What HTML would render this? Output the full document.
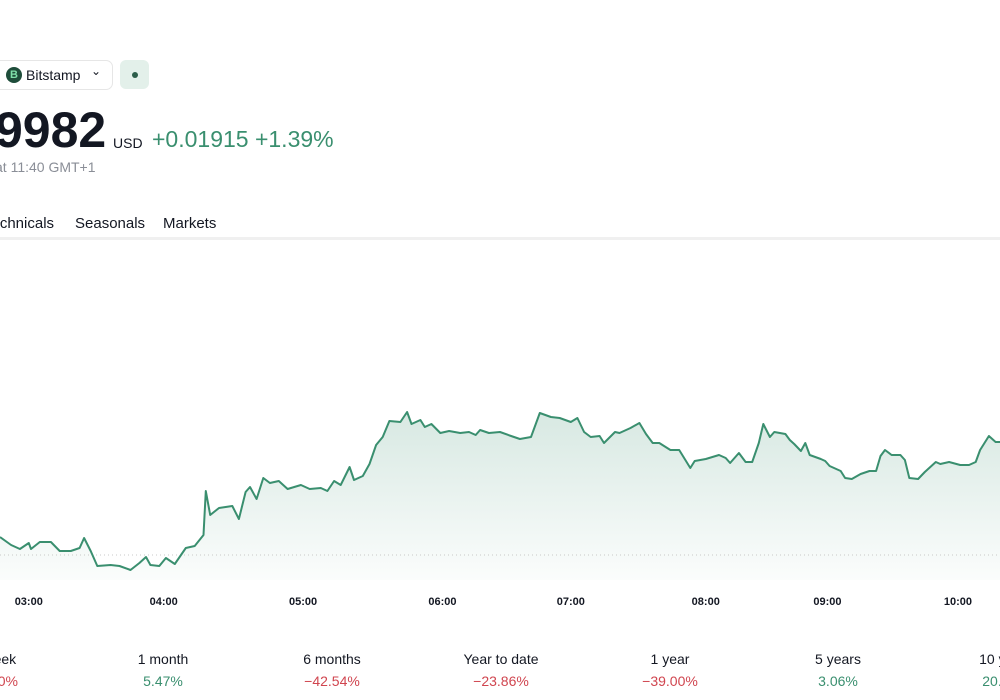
<!DOCTYPE html>
<html><head><meta charset="utf-8">
<style>
body{margin:0;width:1000px;height:700px;overflow:hidden;background:#fff;font-family:"Liberation Sans",sans-serif;position:relative;color:#131722}
.abs{position:absolute;white-space:nowrap}
.perf{position:absolute;width:160px;text-align:center;top:651px}
.perf .l{font-size:14px;color:#131722}
.perf .v{font-size:14px;margin-top:6px}
.g{color:#3a8f6f}.r{color:#d0454f}
</style></head><body>
<div class="abs" style="left:-8px;top:60px;width:119px;height:28px;border:1px solid #e6e6e6;border-radius:7px;">
  <div style="position:absolute;left:13px;top:6px;width:16px;height:16px;border-radius:50%;background:#1e4d3a;color:#7fe0a9;font-size:11px;font-weight:bold;text-align:center;line-height:16px">B</div>
  <span style="position:absolute;left:33px;top:6px;font-size:14px">Bitstamp</span>
  <span style="position:absolute;left:98px;top:3px;font-size:12px">&#8964;</span>
</div>
<div class="abs" style="left:120px;top:60px;width:29px;height:29px;border-radius:6px;background:#e3f0ea">
  <div style="position:absolute;left:12px;top:12px;width:6px;height:6px;border-radius:50%;background:#2b5e4a"></div>
</div>
<div class="abs" style="left:-5px;top:101px;font-size:50px;font-weight:bold">9982</div>
<div class="abs" style="left:113px;top:135px;font-size:14px">USD</div>
<div class="abs g" style="left:152px;top:126px;font-size:23px">+0.01915 +1.39%</div>
<div class="abs" style="left:-5px;top:159px;font-size:14px;color:#8a8e97">at 11:40 GMT+1</div>
<div class="abs" style="left:-16px;top:215px;font-size:15px">Technicals</div>
<div class="abs" style="left:75px;top:215px;font-size:15px">Seasonals</div>
<div class="abs" style="left:163px;top:215px;font-size:15px">Markets</div>
<div class="abs" style="left:0;top:237px;width:1000px;height:3px;background:#f0f0f0"></div>
<svg id="chart" width="1000" height="620" style="position:absolute;left:0;top:0">
<defs><linearGradient id="fg" x1="0" y1="0" x2="0" y2="1"><stop offset="0" stop-color="#3a8f6f" stop-opacity="0.2"/><stop offset="1" stop-color="#3a8f6f" stop-opacity="0.02"/></linearGradient></defs>
</svg>
<div class="perf" style="left:-86px"><div class="l">1 week</div><div class="v r">−1.40%</div></div>
<div class="perf" style="left:83px"><div class="l">1 month</div><div class="v g">5.47%</div></div>
<div class="perf" style="left:252px"><div class="l">6 months</div><div class="v r">−42.54%</div></div>
<div class="perf" style="left:421px"><div class="l">Year to date</div><div class="v r">−23.86%</div></div>
<div class="perf" style="left:590px"><div class="l">1 year</div><div class="v r">−39.00%</div></div>
<div class="perf" style="left:758px"><div class="l">5 years</div><div class="v g">3.06%</div></div>
<div class="perf" style="left:926px"><div class="l">10 years</div><div class="v g">20.00%</div></div>
<script>
const times=[0,5,9,13,14,18,23,27,32,36,38,41,44,50,54,59,63,66,68,72,75,79,84,88,92,93,95,99,105,108,111,113,116,119,122,126,130,136,140,145,148,151,154,158,160,164,167,170,173,176,181,184,186,190,192,195,199,203,208,212,215,217,221,226,231,235,240,244,249,253,258,261,264,267,271,273,278,280,285,289,292,295,298,303,307,312,314,319,325,328,330,334,337,340,343,345,348,350,355,357,359,362,364,366,371,373,375,380,382,385,389,393,396,398,400,403,407,409,411,415,418,423,425,429,434,438,441,443,445,447,450,452];
const values=[43,35,31,37,31,38,38,29,29,32,42,29,14,15,14,10,17,23,15,14,22,16,32,34,45,89,65,72,74,61,88,93,81,102,97,99,91,95,91,92,89,99,95,113,100,104,116,135,143,159,158,168,156,160,153,156,147,149,147,148,145,150,147,148,144,141,143,167,163,162,158,162,148,143,144,137,148,147,152,157,146,137,137,130,130,112,119,121,125,122,117,127,118,118,137,156,143,148,146,140,136,129,137,125,121,119,114,109,102,101,106,109,109,124,130,125,125,120,102,101,108,118,116,118,115,115,118,130,137,144,138,138];
const prevClose=25;
const tickMinutes=[13,74,137,200,258,319,374,433];
const tickLabels=["03:00","04:00","05:00","06:00","07:00","08:00","09:00","10:00"];
const svg=document.getElementById('chart');
const NS='http://www.w3.org/2000/svg';
const xs=m=>m*1000/452;
const ys=v=>580-v;
let d='';
times.forEach((t,i)=>{d+=(i?'L':'M')+xs(t).toFixed(1)+' '+ys(values[i]).toFixed(1);});
const area=document.createElementNS(NS,'path');
area.setAttribute('d',d+'L'+xs(times[times.length-1])+' 580L'+xs(times[0])+' 580Z');
area.setAttribute('fill','url(#fg)');


svg.appendChild(area);
const ref=document.createElementNS(NS,'line');
ref.setAttribute('x1',0);ref.setAttribute('x2',1000);ref.setAttribute('y1',ys(prevClose));ref.setAttribute('y2',ys(prevClose));
ref.setAttribute('stroke','#c8c8c8');ref.setAttribute('stroke-dasharray','1 3');


svg.appendChild(ref);
const line=document.createElementNS(NS,'path');
line.setAttribute('d',d);line.setAttribute('fill','none');line.setAttribute('stroke','#3a8f6f');line.setAttribute('stroke-width','2');line.setAttribute('stroke-linejoin','round');


svg.appendChild(line);
tickMinutes.forEach((m,i)=>{
  const t=document.createElementNS(NS,'text');
  t.setAttribute('x',xs(m));t.setAttribute('y',605);t.setAttribute('text-anchor','middle');
  t.setAttribute('font-size','11');t.setAttribute('font-weight','bold');t.setAttribute('fill','#131722');
  t.setAttribute('font-family','Liberation Sans, sans-serif');
  t.textContent=tickLabels[i];
  
  
  svg.appendChild(t);
});
</script>
</body></html>
